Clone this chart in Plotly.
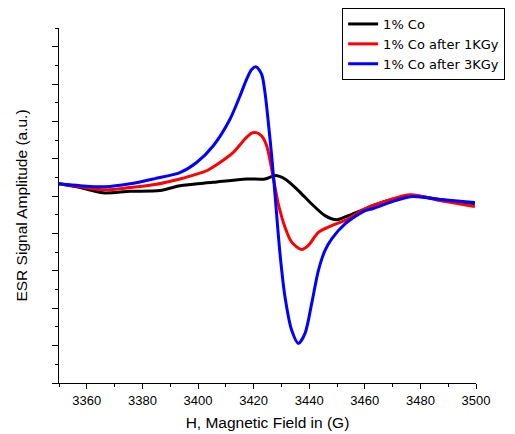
import plotly.graph_objects as go

# Magnetic field (G) and ESR signal amplitude (a.u.)
h_black = [3350, 3357.6, 3365.8, 3375.5, 3386.3, 3393.5, 3405.4, 3417.5, 3424.1, 3427.7, 3431.3,
           3436.1, 3440.9, 3445.7, 3449.9, 3454.1, 3460.1, 3463, 3470.9, 3477.3, 3487, 3499.6]
y_black = [5.33, 5.23, 5.09, 5.13, 5.15, 5.28, 5.37, 5.46, 5.46, 5.55, 5.46,
           5.15, 4.79, 4.48, 4.37, 4.48, 4.66, 4.75, 4.93, 5.01, 4.91, 4.80]

h_red = [3350, 3357.6, 3366.5, 3375.5, 3384.5, 3393.5, 3399.5, 3403.1, 3407.9, 3412.7, 3416.9,
         3419.3, 3420.9, 3422.9, 3424.7, 3426.5, 3428.9, 3431.3, 3433.7, 3437.3, 3439.7, 3443.3,
         3448.1, 3452.9, 3460.1, 3463, 3476.3, 3487, 3499.6]
y_red = [5.33, 5.25, 5.17, 5.23, 5.31, 5.46, 5.59, 5.68, 5.90, 6.17, 6.53,
         6.69, 6.70, 6.61, 6.35, 5.73, 4.79, 4.17, 3.77, 3.57, 3.68, 4.03,
         4.21, 4.35, 4.66, 4.75, 5.04, 4.88, 4.72]

h_blue = [3350, 3357.6, 3366.5, 3375.5, 3384.5, 3393.5, 3399.5, 3405.5, 3411.5, 3415.1, 3417.5,
          3419.3, 3420.9, 3422.9, 3424.1, 3425.3, 3426.5, 3427.7, 3429.5, 3431.3, 3433.7, 3436.1,
          3438.5, 3440.9, 3443.3, 3445.7, 3448.1, 3452.9, 3460.1, 3463, 3470.9, 3477.3, 3487, 3499.6]
y_blue = [5.33, 5.28, 5.25, 5.33, 5.47, 5.63, 5.90, 6.35, 7.06, 7.68, 8.13,
          8.39, 8.46, 8.26, 7.77, 6.97, 6.08, 5.04, 3.46, 2.30, 1.41, 1.06,
          1.33, 2.13, 3.01, 3.55, 3.86, 4.26, 4.61, 4.67, 4.88, 4.99, 4.91, 4.83]

names = ["1% Co", "1% Co after 1KGy", "1% Co after 3KGy"]
colors = ["#000000", "#ff0000", "#0000ff"]

fig = go.Figure()
for h, y, n, c in [(h_black, y_black, names[0], colors[0]),
                   (h_red, y_red, names[1], colors[1]),
                   (h_blue, y_blue, names[2], colors[2])]:
    fig.add_trace(go.Scatter(x=h, y=y, mode="lines", name=n,
                             line=dict(color=c, width=3, shape="spline", smoothing=0.8)))

font_family = "Liberation Sans, Arial, sans-serif"
# page body has an 8px default margin, so the figure is sized/offset to compensate
fig.update_layout(
    width=507, height=426,
    margin=dict(l=51, r=39, t=20, b=51, autoexpand=False),
    paper_bgcolor="white", plot_bgcolor="white",
    font=dict(family=font_family, color="black"),
    legend=dict(x=0.659, y=1.0, xref="container", yref="container",
                xanchor="left", yanchor="top",
                bordercolor="black", borderwidth=1, bgcolor="white",
                font=dict(size=13, family="DejaVu Sans, sans-serif"), tracegroupgap=0),
    xaxis=dict(range=[3350, 3500], dtick=20, tick0=3360, ticks="outside", ticklen=5,
               tickwidth=1, tickcolor="black", showline=True, linecolor="black", linewidth=1,
               showgrid=False, zeroline=False, tickfont=dict(size=13), automargin=False,
               minor=dict(dtick=10, tick0=3350, ticks="outside", ticklen=3, tickcolor="black"),
               title=dict(text="H, Magnetic Field in (G)", font=dict(size=15.5), standoff=10)),
    yaxis=dict(range=[0, 9.5], dtick=1, tick0=0, ticks="outside", ticklen=6,
               tickwidth=1, tickcolor="black", showline=True, linecolor="black", linewidth=1,
               showgrid=False, zeroline=False, showticklabels=False, automargin=False,
               minor=dict(dtick=0.5, tick0=0, ticks="outside", ticklen=3, tickcolor="black"),
               title=dict(text="ESR Signal Amplitude (a.u.)", font=dict(size=15.5), standoff=20)),
)

fig.write_html("out.html")
